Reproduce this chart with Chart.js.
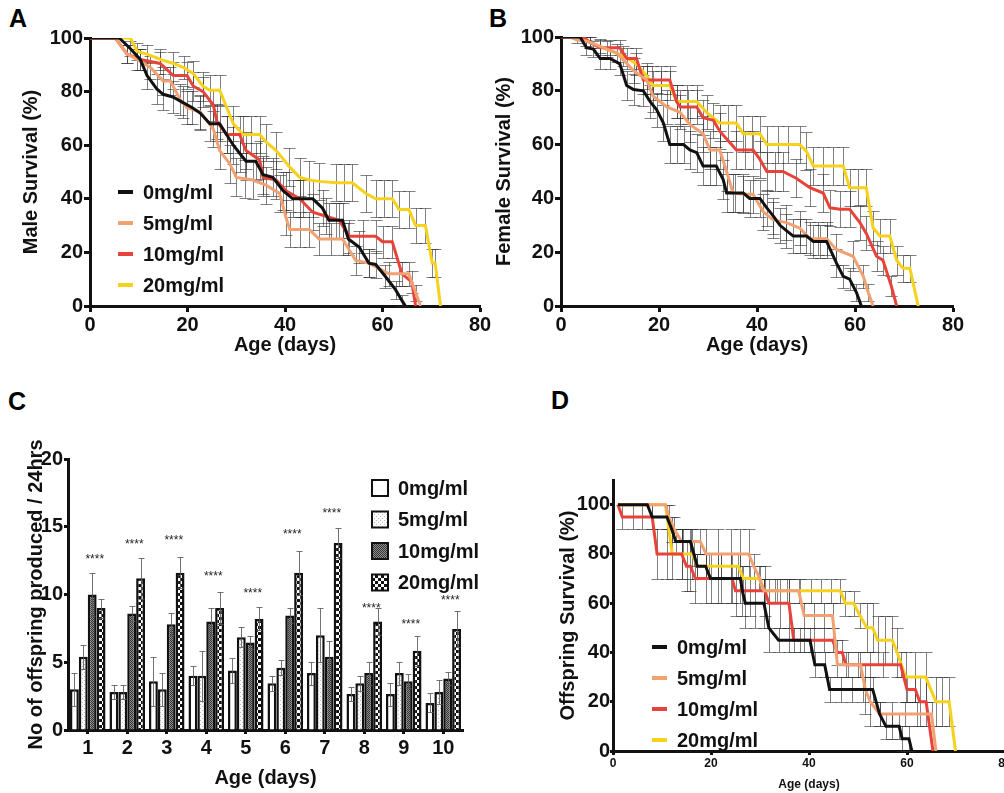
<!DOCTYPE html>
<html>
<head>
<meta charset="utf-8">
<script src="https://cdn.jsdelivr.net/npm/chart.js@4.4.1/dist/chart.umd.min.js"></script>
<style>
body { margin:0; width:1004px; height:793px; overflow:hidden; background:#fff; position:relative; font-family: Arial, "Liberation Sans", sans-serif; }
canvas { position:absolute; }
.lbl { position:absolute; font-weight:bold; font-size:25px; color:#000; }
</style>
</head>
<body>
<div class="lbl" style="left:9px;top:4px">A</div>
<div class="lbl" style="left:489px;top:4px">B</div>
<div class="lbl" style="left:8px;top:387px">C</div>
<div class="lbl" style="left:551px;top:386px">D</div>
<canvas id="chartA" width="500" height="360" style="left:0;top:0"></canvas>
<canvas id="chartB" width="514" height="360" style="left:490px;top:0"></canvas>
<canvas id="chartC" width="520" height="413" style="left:0;top:380px"></canvas>
<canvas id="chartD" width="474" height="413" style="left:540px;top:380px"></canvas>
<script>
// doses (legend order)
const doseLabels = ["0mg/ml", "5mg/ml", "10mg/ml", "20mg/ml"];
const doseColors = ["#111111", "#f2a173", "#e8433b", "#f7d21c"];

// survival curves: [age (days), survival (%), SE (%)]
const male0 = [[0,100,0],[6,100,0],[8.3,96,2.8],[10.3,92,3.8],[11.7,86,4.9],[13.7,81,5.5],[15,79,5.8],[17,78,5.9],[19,76,6],[21,74,6.2],[22.6,72,6.3],[24.6,68,6.6],[26.6,68,6.6],[28,64,6.8],[29.4,60,6.9],[30.7,57,7],[32,54,7],[34,54,7],[35.5,49,7.1],[37.5,48,7.1],[39.6,43,7],[41.6,40,6.9],[43.6,40,6.9],[45.7,40,6.9],[47.7,36.5,6.8],[49,32,6.6],[50.4,32,6.6],[51.8,32,6.6],[53,25,6.1],[55.2,22,5.9],[57.2,16,5.2],[58.6,15.5,5.1],[60.6,11,4.4],[62.7,6,3.4],[64,2,2],[64.7,0,0]];
const male5 = [[0,100,0],[5.2,100,0],[7.6,94,3.4],[9.7,92,3.8],[12.4,89,4.4],[15,84,5.2],[16.5,84,5.2],[18.5,77,5.9],[19.9,74,6.2],[22.6,72.5,6.3],[25.3,66,6.7],[26.6,58,7],[28.7,53,7.1],[30,48,7.1],[31.7,47.5,7.1],[33.4,47,7.1],[36.2,45,7],[38.9,42,7],[40.2,33,6.6],[41,28.5,6.4],[43,28.5,6.4],[45,28.5,6.4],[47,25,6.1],[49.4,25,6.1],[51.8,25,6.1],[54.5,17,5.3],[57.2,16,5.2],[61.3,12,4.6],[63.4,12,4.6],[65.4,12,4.6],[66.8,5,3],[67.8,0,0]];
const male10 = [[0,100,0],[5.2,100,0],[7.6,94,3.4],[10.3,92,3.8],[14.4,90.5,4.1],[17.1,86,4.9],[19.9,86,4.9],[21.2,82,5.4],[23.2,80,5.6],[25.3,75,6.1],[26,69,6.5],[28,64,6.8],[30.7,64,6.8],[32,58,7],[34.8,54.5,7],[35.5,48,7.1],[38.2,47,7.1],[40.2,43,7],[43,40,6.9],[45.7,35,6.7],[48.4,33.5,6.7],[51.1,32,6.6],[53.2,26,6.2],[55.9,26,6.2],[58.6,26,6.2],[60,24,6],[62,24,6],[64,12,4.6],[66,9,4],[66.8,0,0]];
const male20 = [[0,100,0],[8.3,100,0],[9.7,95,3.1],[11.7,94,3.4],[14.4,92,3.8],[17.1,90.5,4.1],[19.2,89,4.4],[21.2,86.7,4.8],[23.2,82,5.4],[24.6,80.5,5.6],[26.6,80.5,5.6],[29.4,68,6.6],[31.4,64,6.8],[33.1,64,6.8],[34.8,64,6.8],[36.2,61,6.9],[38.2,58,7],[40.9,52,7.1],[43,48,7.1],[45,47,7],[47,46.5,7],[50.4,46,7],[52,46,7],[53.8,46,7],[56.6,42,7],[58.6,40,6.9],[60.3,40,6.9],[62,40,6.9],[63.4,36,6.8],[65.4,36,6.8],[66.8,30,6.5],[68.8,30,6.5],[70.2,16,5.2],[70.8,16,5.2],[71.9,0,0]];

const fem0 = [[0,100,0],[3.9,100,0],[5.2,96,2.8],[6.6,95.5,2.9],[8,92,3.8],[10,92,3.8],[12,90,4.2],[13.4,82,5.4],[14.8,80.5,5.6],[16.8,80,5.7],[18.2,76,6],[19.5,73,6.3],[20.9,68,6.6],[22.2,60,6.9],[23.6,60,6.9],[25,60,6.9],[26.3,58,7],[27.7,57,7],[29,52,7.1],[30.4,52,7.1],[31.7,52,7.1],[33.1,47,7.1],[33.8,42,7],[35.5,42,7],[37.2,42,7],[38.5,40,6.9],[40.6,40,6.9],[42,36.5,6.8],[43.3,33.5,6.7],[44.7,30,6.5],[46,28,6.3],[47.4,26,6.2],[48.8,26,6.2],[50.1,26,6.2],[51.5,24,6],[52.9,24,6],[54.2,24,6],[56.2,16,5.2],[57.6,11,4.4],[58.9,10,4.2],[60.3,5,3.1],[61.3,0,0]];
const fem5 = [[0,100,0],[1.8,100,0],[3.2,99,1.4],[5.2,98.5,1.7],[8,96.5,2.6],[11.4,94,3.4],[14.8,87.5,4.7],[17.5,84,5.2],[18.8,78,5.9],[21.6,74,6.2],[24.3,72,6.3],[26.3,67.5,6.6],[29,64,6.8],[30.4,58,7],[32.4,58,7],[33.8,50,7.1],[35.1,42,7],[37.2,41.5,7],[39.2,41.5,7],[41.3,35,6.7],[43.3,32,6.6],[46,31,6.5],[48.7,29,6.4],[50.8,25,6.1],[52.5,25,6.1],[54.2,25,6.1],[56.2,21,5.8],[59.6,18.5,5.5],[61.7,11,4.4],[62.7,5,3.1],[63.7,0,0]];
const fem10 = [[0,100,0],[4.6,100,0],[5.9,98,2],[8,96,2.8],[10,96,2.8],[12,96,2.8],[13.4,92,3.8],[15.4,92,3.8],[16.8,84,5.2],[18.6,84,5.2],[20.4,84,5.2],[22.2,84,5.2],[23.6,76,6],[24.3,74,6.2],[26,74,6.2],[27.7,74,6.2],[29,70,6.5],[31.1,69,6.5],[32.4,65,6.7],[35.8,58,7],[37.5,58,7],[39.2,58,7],[40.6,54.5,7],[42,50,7.1],[43.7,50,7.1],[45.3,50,7.1],[48,47.5,7.1],[50.8,44,7],[53.5,42,7],[54.9,36.5,6.8],[56.9,36,6.8],[58.9,36,6.8],[61,31,6.5],[62.3,27,6.3],[64.4,18.5,5.5],[65.7,17,5.3],[67.4,7.5,3.7],[68.5,0,0]];
const fem20 = [[0,100,0],[4,100,0],[5.9,98,2],[9.3,95.5,2.9],[12.7,93,3.6],[15.4,90,4.2],[17.5,85.5,5],[18.8,82,5.4],[20.5,82,5.4],[22.2,82,5.4],[23.6,76,6],[25.7,76,6],[27.7,76,6],[29.7,72,6.3],[32.4,68,6.6],[34.1,68,6.6],[35.8,68,6.6],[37.2,64,6.8],[38.9,64,6.8],[40.6,64,6.8],[42,60,6.9],[44.2,60,6.9],[46.4,60,6.9],[48.7,60,6.9],[50.1,57.5,7],[51.5,52,7.1],[53.5,52,7.1],[55.6,52,7.1],[57.6,52,7.1],[58.9,44,7],[60.6,44,7],[62.3,44,7],[63.7,29,6.4],[65.1,26,6.2],[67.1,26,6.2],[68.5,17,5.3],[69.8,14,4.9],[71.2,14,4.9],[72.9,0,0]];

const off0 = [[1,100,0],[7,100,0],[8,95,5],[11,95,5],[12,90,5],[12.8,85,5],[14.3,85,5],[15.8,85,5],[16.5,80,5],[17.2,75,5],[18.9,75,5],[19.9,70,10],[22,70,10],[24,70,10],[26,70,10],[26.4,65,10],[27,60,10],[29,60,10],[30.8,60,10],[31.8,50,10],[33.8,45,5],[36,45,5],[38.2,45,5],[40.2,45,5],[41.2,35,5],[43.2,35,5],[44.2,25,5],[46.5,25,5],[48.8,25,5],[51,25,5],[53,25,5],[54.4,15,5],[55.7,10,5],[57,10,5],[58.4,10,5],[59,5,5],[60.4,5,5],[61,0,0]];
const off5 = [[1,100,0],[10.7,100,0],[11.4,95,5],[12.5,90,5],[14,85,5],[16,85,5],[17.8,85,5],[19,80,10],[21.5,80,10],[24,80,10],[26,80,10],[27.7,80,10],[28.7,75,5],[30,70,5],[30.8,65,5],[33,65,5],[35.5,65,5],[37.9,65,5],[39,55,5],[41,55,5],[43,55,5],[44.8,55,5],[45.8,35,5],[48,35,5],[50.5,35,5],[51.5,25,10],[52.5,20,10],[54.4,15,5],[57,15,5],[59.5,15,5],[62,15,5],[65,15,5],[65.9,0,0]];
const off10 = [[1,100,0],[1.9,95,5],[4,95,5],[6,95,5],[8,95,5],[9,80,10],[11,80,10],[14,80,10],[15,75,10],[15.8,75,10],[16.8,70,10],[19,70,10],[21.5,70,10],[24.3,70,10],[25,65,10],[28,65,10],[31,65,10],[31.8,60,10],[34,60,10],[35.9,60,10],[36.9,45,5],[39,45,5],[41,45,5],[43,45,5],[44.8,45,5],[45.8,40,5],[46.8,40,5],[47.5,35,5],[50,35,5],[52.5,35,5],[55,35,5],[58.7,35,5],[60,25,5],[61.7,25,5],[62.6,20,10],[63.9,20,10],[65.3,0,0]];
const off20 = [[1,100,0],[10.7,100,0],[12.1,80,10],[14,80,10],[16.2,80,10],[17.2,75,5],[19.5,75,5],[22,75,5],[25.6,75,5],[26.6,70,5],[29.8,70,5],[30.8,65,5],[33.5,65,5],[36,65,5],[38.2,65,5],[40.5,65,5],[42.5,65,5],[44.5,65,5],[46.4,65,5],[47.4,60,5],[49.1,60,5],[50.4,55,5],[51.8,50,10],[53,50,10],[54,45,10],[55.5,45,10],[57,45,10],[58,40,10],[59.7,30,10],[61.7,30,10],[63.8,30,10],[65.9,20,10],[67.2,20,10],[68.6,20,10],[69.9,0,0]];

// offspring produced per 24 hrs (mean and SE), days 1-10
const ageDays = ["1", "2", "3", "4", "5", "6", "7", "8", "9", "10"];
const offspring0 = [3.0, 2.8, 3.6, 4.0, 4.4, 3.45, 4.2, 2.65, 2.65, 2.0];
const offspring0Err = [1.2, 0.5, 1.8, 0.7, 0.9, 0.55, 0.85, 0.5, 0.85, 0.7];
const offspring5 = [5.4, 2.8, 3.0, 4.0, 6.85, 4.6, 7.0, 3.45, 4.2, 2.8];
const offspring5Err = [0.9, 0.5, 1.2, 1.85, 0.75, 0.55, 2.0, 0.55, 0.85, 0.9];
const offspring10 = [10.0, 8.6, 7.8, 8.0, 6.45, 8.45, 5.4, 4.2, 3.6, 3.8];
const offspring10Err = [1.6, 0.55, 0.8, 1.0, 0.5, 0.55, 1.15, 0.85, 0.5, 0.5];
const offspring20 = [9.0, 11.2, 11.6, 9.0, 8.2, 11.6, 13.8, 8.0, 5.85, 7.45];
const offspring20Err = [0.7, 1.5, 1.15, 1.2, 0.85, 1.6, 1.1, 1.0, 1.1, 1.35];
const starLevels = [12.8, 13.9, 14.2, 11.5, 10.3, 14.6, 16.2, 9.15, 8.0, 9.8];

const FONT = 'Arial, "Liberation Sans", sans-serif';

// vertical error bars with caps for survival curves
const survivalErrorBars = {
    id: "survivalErrorBars",
    beforeDatasetsDraw(chart) {
        const ctx = chart.ctx;
        const xs = chart.scales.x, ys = chart.scales.y;
        ctx.save();
        ctx.strokeStyle = "rgba(45,45,45,0.6)";
        ctx.lineWidth = 1;
        chart.data.datasets.forEach((ds) => {
            ds.data.forEach((p) => {
                if (!p.e) return;
                const px = Math.round(xs.getPixelForValue(p.x)) + 0.5;
                const top = Math.round(ys.getPixelForValue(Math.min(p.y + p.e, 100))) + 0.5;
                const bot = Math.round(ys.getPixelForValue(Math.max(p.y - p.e, 0))) + 0.5;
                ctx.beginPath();
                ctx.moveTo(px, top); ctx.lineTo(px, bot);
                ctx.moveTo(px - 6, top); ctx.lineTo(px + 6, top);
                ctx.moveTo(px - 6, bot); ctx.lineTo(px + 6, bot);
                ctx.stroke();
            });
        });
        ctx.restore();
    }
};

// legend drawn inside the plot
const insideLegend = {
    id: "insideLegend",
    afterDraw(chart, args, o) {
        if (o.x === undefined) return;
        const ctx = chart.ctx;
        ctx.save();
        ctx.font = "bold 20px " + FONT;
        ctx.textBaseline = "middle";
        chart.data.datasets.forEach((ds, i) => {
            const y = o.y + i * o.gap;
            if (o.box) {
                ctx.fillStyle = ds.backgroundColor;
                ctx.fillRect(o.x, y - 8, 16, 16);
                ctx.strokeStyle = "#111";
                ctx.lineWidth = 2;
                ctx.strokeRect(o.x, y - 8, 16, 16);
            } else {
                ctx.strokeStyle = ds.borderColor;
                ctx.lineWidth = 4;
                ctx.beginPath();
                ctx.moveTo(o.x, y); ctx.lineTo(o.x + 15, y);
                ctx.stroke();
            }
            ctx.fillStyle = "#111";
            ctx.fillText(ds.label, o.textX, y + 1);
        });
        ctx.restore();
    }
};

function axisBase(size) {
    return {
        ticks: { color: "#111", font: { family: FONT, weight: "bold", size: size } },
        grid: { drawOnChartArea: false, tickColor: "#111", tickWidth: 3, tickLength: 6 },
        border: { color: "#111", width: 3 }
    };
}

function survivalChart(id, series, yTitle, cfg) {
    const x = axisBase(cfg.xFont);
    Object.assign(x, { type: "linear", min: 0, max: 80 });
    x.ticks.stepSize = 20;
    x.ticks.padding = 1;
    x.grid.tickLength = cfg.xTick;
    x.title = { display: true, text: "Age (days)", color: "#111", font: { family: FONT, weight: "bold", size: cfg.xFont }, padding: { top: 0, bottom: cfg.xTitlePad } };
    x.afterFit = (s) => { s.height = cfg.xHeight; };

    const y = axisBase(20);
    Object.assign(y, { min: 0, max: cfg.yMax });
    y.ticks.stepSize = 20;
    y.ticks.padding = cfg.yPad;
    y.grid.tickLength = cfg.yTick;
    y.afterBuildTicks = (s) => { s.ticks = s.ticks.filter((t) => t.value <= 100); };
    y.title = { display: true, text: yTitle, color: "#111", font: { family: FONT, weight: "bold", size: 20 }, padding: { top: cfg.yTitlePad, bottom: 0 } };
    y.afterFit = (s) => { s.width = cfg.yWidth; };

    return new Chart(document.getElementById(id), {
        type: "line",
        data: {
            datasets: series.map((s, i) => ({
                label: doseLabels[i],
                data: s.map((p) => ({ x: p[0], y: p[1], e: p[2] })),
                borderColor: doseColors[i],
                backgroundColor: doseColors[i],
                borderWidth: 3,
                pointRadius: 0,
                tension: 0,
                fill: false
            }))
        },
        options: {
            responsive: false,
            animation: false,
            devicePixelRatio: 1,
            layout: { padding: cfg.padding },
            scales: { x: x, y: y },
            plugins: {
                legend: { display: false },
                tooltip: { enabled: false },
                insideLegend: cfg.legend || {}
            }
        },
        plugins: [survivalErrorBars, insideLegend]
    });
}

survivalChart("chartA", [male0, male5, male10, male20], "Male Survival (%)", {
    padding: { left: 0, top: 38, right: 20, bottom: 0 },
    yWidth: 90, xHeight: 54, yMax: 100, xFont: 20, xTick: 6, yTick: 6, yPad: 1,
    yTitlePad: 19, xTitlePad: 3,
    legend: { x: 118, textX: 143, y: 192, gap: 31 }
});

survivalChart("chartB", [fem0, fem5, fem10, fem20], "Female Survival (%)", {
    padding: { left: 0, top: 37, right: 51, bottom: 0 },
    yWidth: 71, xHeight: 54, yMax: 100, xFont: 20, xTick: 6, yTick: 6, yPad: 1,
    yTitlePad: 2, xTitlePad: 3
});

survivalChart("chartD", [off0, off5, off10, off20], "Offspring Survival (%)", {
    padding: { left: 0, top: 100, right: 9, bottom: 0 },
    yWidth: 73, xHeight: 42, yMax: 110, xFont: 12, xTick: 4, yTick: 3, yPad: 0,
    yTitlePad: 16, xTitlePad: 1,
    legend: { x: 112, textX: 137, y: 267, gap: 31 }
});

// bar fill patterns
function makePattern(size, draw) {
    const c = document.createElement("canvas");
    c.width = size; c.height = size;
    const g = c.getContext("2d");
    draw(g);
    return document.createElement("canvas").getContext("2d").createPattern(c, "repeat");
}
const fills = [
    "#ffffff",
    makePattern(4, (g) => { g.fillStyle = "#fafafa"; g.fillRect(0, 0, 4, 4); g.fillStyle = "#b8b8b8"; g.fillRect(0, 0, 1, 1); g.fillRect(2, 2, 1, 1); }),
    makePattern(2, (g) => { g.fillStyle = "#8e8e8e"; g.fillRect(0, 0, 2, 2); g.fillStyle = "#333"; g.fillRect(0, 0, 1, 1); g.fillRect(1, 1, 1, 1); }),
    makePattern(6, (g) => { g.fillStyle = "#ffffff"; g.fillRect(0, 0, 6, 6); g.fillStyle = "#111"; g.fillRect(0, 0, 3, 3); g.fillRect(3, 3, 3, 3); })
];

const barErrorBars = {
    id: "barErrorBars",
    afterDatasetsDraw(chart) {
        const ctx = chart.ctx;
        const ys = chart.scales.y;
        ctx.save();
        ctx.strokeStyle = "rgba(90,90,90,0.85)";
        ctx.lineWidth = 1;
        chart.data.datasets.forEach((ds, di) => {
            const meta = chart.getDatasetMeta(di);
            meta.data.forEach((bar, i) => {
                const px = Math.round(bar.x) + 0.5;
                const top = Math.round(ys.getPixelForValue(ds.data[i] + ds.err[i])) + 0.5;
                const bot = Math.round(ys.getPixelForValue(ds.data[i] - ds.err[i])) + 0.5;
                ctx.beginPath();
                ctx.moveTo(px, top); ctx.lineTo(px, bot);
                ctx.moveTo(px - 3, top); ctx.lineTo(px + 3, top);
                ctx.moveTo(px - 3, bot); ctx.lineTo(px + 3, bot);
                ctx.stroke();
            });
        });
        // significance stars
        const xs = chart.scales.x;
        ctx.fillStyle = "#222";
        ctx.font = "12px " + FONT;
        ctx.textAlign = "center";
        ctx.textBaseline = "middle";
        starLevels.forEach((v, i) => {
            ctx.fillText("****", xs.getPixelForValue(i) + 7, ys.getPixelForValue(v) + 3);
        });
        ctx.restore();
    }
};

const barSeries = [offspring0, offspring5, offspring10, offspring20];
const barErrors = [offspring0Err, offspring5Err, offspring10Err, offspring20Err];

const cx = axisBase(20);
cx.ticks.padding = 2;
cx.grid.tickLength = 4;
cx.grid.offset = false;
cx.title = { display: true, text: "Age (days)", color: "#111", font: { family: FONT, weight: "bold", size: 20 }, padding: { top: 0, bottom: 3 } };
cx.afterFit = (s) => { s.height = 63; };

const cy = axisBase(20);
Object.assign(cy, { min: 0, max: 20 });
cy.ticks.stepSize = 5;
cy.ticks.padding = 1;
cy.grid.tickLength = 4;
cy.title = { display: true, text: "No of offspring produced / 24hrs", color: "#111", font: { family: FONT, weight: "bold", size: 20 }, padding: { top: 24, bottom: 0 } };
cy.afterFit = (s) => { s.width = 68; };

new Chart(document.getElementById("chartC"), {
    type: "bar",
    data: {
        labels: ageDays,
        datasets: barSeries.map((vals, i) => ({
            label: doseLabels[i],
            data: vals,
            err: barErrors[i],
            backgroundColor: fills[i],
            borderColor: "#111",
            borderWidth: 2.5,
            categoryPercentage: 0.9,
            barPercentage: 1.0
        }))
    },
    options: {
        responsive: false,
        animation: false,
        devicePixelRatio: 1,
        layout: { padding: { left: 0, top: 79, right: 57, bottom: 0 } },
        scales: { x: cx, y: cy },
        plugins: {
            legend: { display: false },
            tooltip: { enabled: false },
            insideLegend: { x: 372, textX: 398, y: 108, gap: 31.5, box: true }
        }
    },
    plugins: [barErrorBars, insideLegend]
});
</script>
</body>
</html>
